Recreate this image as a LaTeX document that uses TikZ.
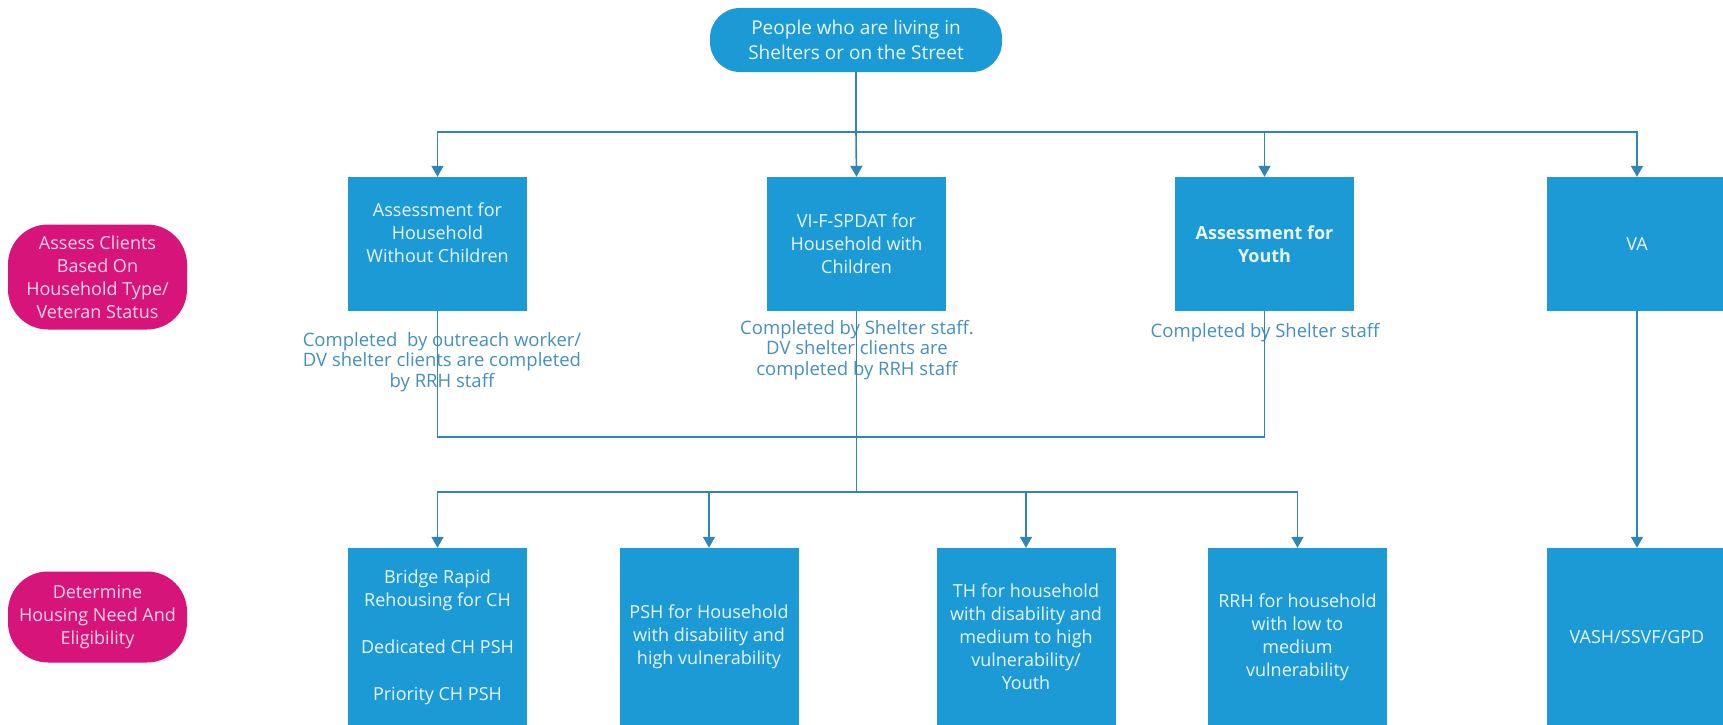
\documentclass[tikz,border=0pt]{standalone}
\usepackage{fontspec}
\setmainfont{Open Sans}
\usetikzlibrary{arrows.meta}
\definecolor{boxblue}{HTML}{1C9AD6}
\definecolor{boxtext}{HTML}{EAF6FC}
\definecolor{stagepink}{HTML}{D6147A}
\definecolor{pinktext}{HTML}{F7D3EA}
\definecolor{linkblue}{HTML}{2E86B8}
\definecolor{notetext}{HTML}{4490BF}
\begin{document}
\begin{tikzpicture}[x=1pt,y=-1pt,
  stepbox/.style={fill=boxblue, draw=none, minimum width=179pt, inner sep=0pt,
    text=boxtext, align=center, font=\fontsize{18}{23}\selectfont},
  assessbox/.style={stepbox, minimum height=134pt},
  housingbox/.style={stepbox, minimum height=178pt},
  stagebox/.style={fill=stagepink, draw=none, minimum width=179pt, inner sep=0pt,
    rounded corners=40pt, text=pinktext, align=center, font=\fontsize{18}{23}\selectfont},
  startbox/.style={fill=boxblue, draw=none, minimum width=292pt, minimum height=64pt,
    inner sep=0pt, rounded corners=30pt, text=boxtext, align=center,
    font=\fontsize{19}{25}\selectfont},
  note/.style={text=notetext, align=center, inner sep=0pt, font=\fontsize{18.5}{20.5}\selectfont},
  link/.style={draw=linkblue, line width=1.6pt},
  flow/.style={link, -{Triangle[width=12pt,length=11pt]}}]
\useasboundingbox (0,0) rectangle (1723,725);
\clip (0,0) rectangle (1723,725);
\fill[white] (0,0) rectangle (1723,725);

% stage labels on the left
\node[stagebox, minimum height=105pt] (stage1) at (97.5,277) {Assess Clients\\Based On\\Household Type/\\Veteran Status};
\node[stagebox, minimum height=91pt] (stage2) at (97.5,617) {Determine\\Housing Need And\\Eligibility};

% entry point
\node[startbox] (start) at (856,40) {People who are living in\\Shelters or on the Street};

% assessments
\node[assessbox] (adult) at (437.5,244) {Assessment for\\Household\\Without Children\\\mbox{}};
\node[assessbox] (family) at (856.5,244) {VI-F-SPDAT for\\Household with\\Children};
\node[assessbox] (youth) at (1264.5,244) {\bfseries Assessment for\\\bfseries Youth};
\node[assessbox, minimum width=180pt] (va) at (1637,244) {VA};

% who completes each assessment
\node[note] (adultnote) at (442,362) {Completed\ \ by outreach worker/\\DV shelter clients are completed\\by RRH staff};
\node[note] (familynote) at (857,350) {Completed by Shelter staff.\\DV shelter clients are\\completed by RRH staff};
\node[note] (youthnote) at (1265,333) {Completed by Shelter staff};

% housing options
\node[housingbox] (ch) at (437.5,637) {Bridge Rapid\\Rehousing for CH\\[24pt]Dedicated CH PSH\\[24pt]Priority CH PSH};
\node[housingbox] (psh) at (709,637) {PSH for Household\\with disability and\\high vulnerability};
\node[housingbox] (th) at (1026,637) {TH for household\\with disability and\\medium to high\\vulnerability/\\Youth};
\node[housingbox] (rrh) at (1297.5,637) {RRH for household\\with low to\\medium\\vulnerability};
\node[housingbox, minimum width=180pt] (vash) at (1637,637) {VASH/SSVF/GPD};

% junction points
\coordinate (split) at (856,132);
\coordinate (merge) at (856.5,437);
\coordinate (fan) at (856.5,492);

% connectors
\draw[link] (start.south) -- (split);
\draw[flow] (split) -| (adult.north);
\draw[flow] (split) -- (family.north);
\draw[flow] (split) -| (youth.north);
\draw[flow] (split) -| (va.north);

\draw[link] (adult.south) |- (merge);
\draw[link] (youth.south) |- (merge);
\draw[link] (family.south) -- (fan);

\draw[flow] (fan) -| (ch.north);
\draw[flow] (fan) -| (psh.north);
\draw[flow] (fan) -| (th.north);
\draw[flow] (fan) -| (rrh.north);

\draw[flow] (va.south) -- (vash.north);
\end{tikzpicture}
\end{document}
